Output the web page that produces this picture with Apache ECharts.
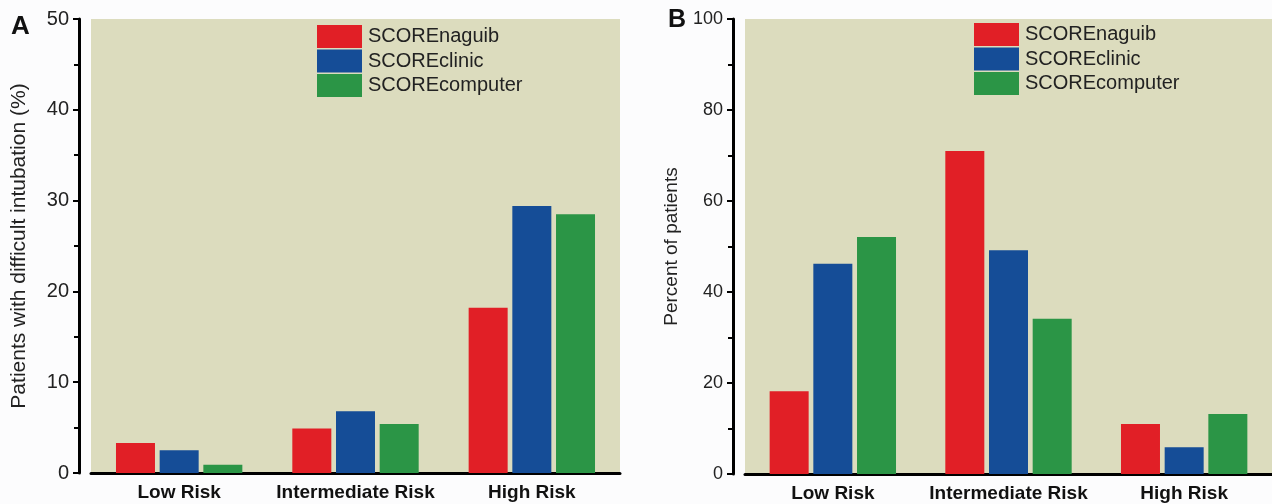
<!DOCTYPE html>
<html><head><meta charset="utf-8">
<script src="https://cdn.jsdelivr.net/npm/echarts@6/dist/echarts.min.js"></script>
<style>html,body{margin:0;padding:0;background:#fcfcfd;}#c{width:1272px;height:504px;}</style>
</head><body><div id="c"></div>
<script>
const categories = ['Low Risk', 'Intermediate Risk', 'High Risk'];
const seriesNames = ['SCOREnaguib', 'SCOREclinic', 'SCOREcomputer'];
// Panel A: patients with difficult intubation (%)
const aNaguib = [3.3, 4.9, 18.2];
const aClinic = [2.5, 6.8, 29.4];
const aComputer = [0.9, 5.4, 28.5];
// Panel B: percent of patients
const bNaguib = [18.2, 71.0, 11.0];
const bClinic = [46.2, 49.2, 5.9];
const bComputer = [52.1, 34.1, 13.2];
const aTicks = {min: 0, max: 50, interval: 10};
const bTicks = {min: 0, max: 100, interval: 20};

const colors = ['#e11f26', '#154d97', '#2b9546'];
const font = 'Liberation Sans, Arial, sans-serif';
const chart = echarts.init(document.getElementById('c'));

function xAxis(gi) {
  return {
    type: 'category', gridIndex: gi, data: categories,
    axisLine: {lineStyle: {color: '#000', width: 3}},
    axisTick: {show: false},
    axisLabel: {interval: 0, fontFamily: font, fontSize: 19, fontWeight: 'bold', color: '#111', margin: 10},
    splitLine: {show: false}
  };
}
function yAxis(gi, t, name, gap, nameSize, tickSize) {
  return {
    type: 'value', gridIndex: gi, min: t.min, max: t.max, interval: t.interval,
    offset: 12, name: name, nameLocation: 'middle', nameGap: gap,
    nameTextStyle: {fontFamily: font, fontSize: nameSize, color: '#222'},
    axisLine: {show: true, lineStyle: {color: '#000', width: 3}},
    axisTick: {show: true, length: 6, lineStyle: {color: '#000', width: 2}},
    minorTick: {show: true, splitNumber: 2, length: 5, lineStyle: {color: '#000', width: 2}},
    axisLabel: {fontFamily: font, fontSize: tickSize, color: '#222', margin: 10},
    splitLine: {show: false}
  };
}
function bars(gi, arrs) {
  return arrs.map((d, i) => ({
    name: seriesNames[i], type: 'bar', xAxisIndex: gi, yAxisIndex: gi,
    data: d, barWidth: 39, barGap: '12%',
    itemStyle: {color: colors[i]}
  }));
}
function legend(left, top) {
  return {
    left: left, top: top, orient: 'vertical', itemWidth: 45, itemHeight: 23, itemGap: 1.5,
    padding: 0, icon: 'rect', data: seriesNames,
    textStyle: {fontFamily: font, fontSize: 20, color: '#222', padding: [0, 0, 0, 1]}
  };
}

chart.setOption({
  backgroundColor: '#fcfcfd',
  animation: false,
  title: [
    {text: 'A', left: 11, top: 14, padding: 0, textStyle: {fontFamily: font, fontSize: 26, fontWeight: 'bold', color: '#111'}},
    {text: 'B', left: 668, top: 8, padding: 0, textStyle: {fontFamily: font, fontSize: 25, fontWeight: 'bold', color: '#111'}}
  ],
  legend: [legend(317, 25), legend(974, 23)],
  grid: [
    {left: 91, top: 19, width: 529, height: 454, show: true, backgroundColor: '#dcdcbe', borderWidth: 0},
    {left: 745, top: 19, width: 527, height: 455, show: true, backgroundColor: '#dcdcbe', borderWidth: 0}
  ],
  xAxis: [xAxis(0), xAxis(1)],
  yAxis: [
    yAxis(0, aTicks, 'Patients with difficult intubation (%)', 49, 21, 20),
    yAxis(1, bTicks, 'Percent of patients', 52, 19, 18)
  ],
  series: bars(0, [aNaguib, aClinic, aComputer]).concat(bars(1, [bNaguib, bClinic, bComputer]))
});
</script></body></html>
